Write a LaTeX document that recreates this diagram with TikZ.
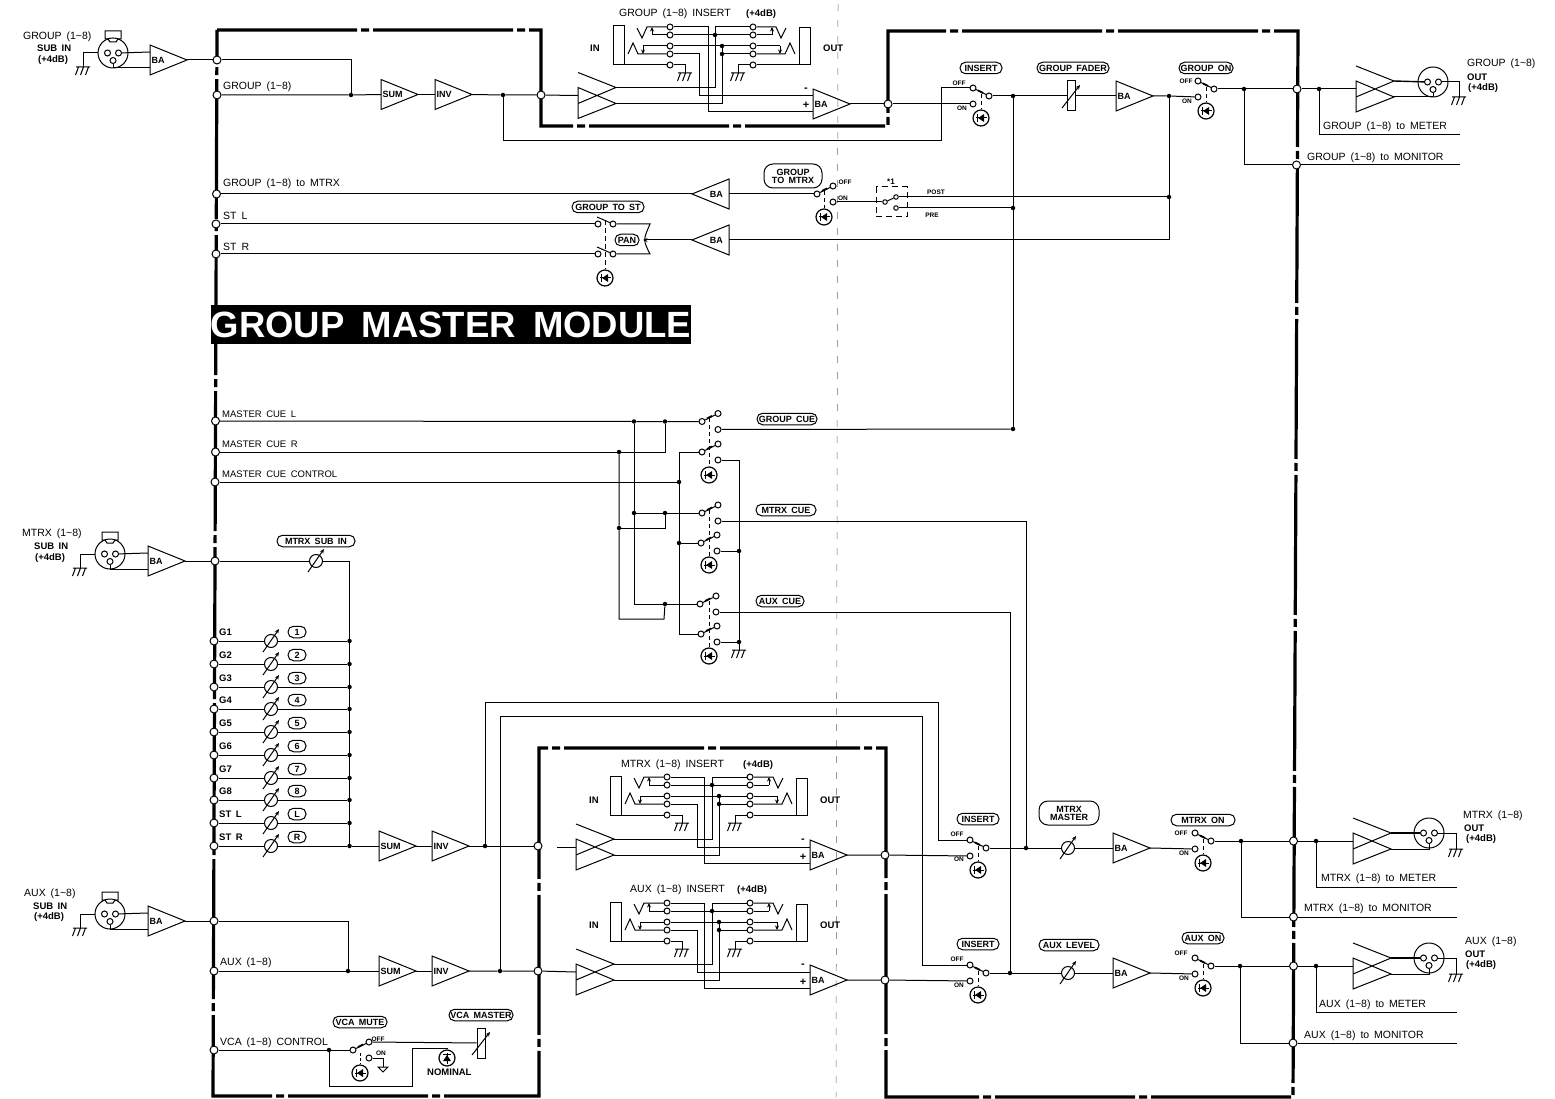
\documentclass[tikz,border=0pt]{standalone}
\usepackage{fontspec}
\setmainfont[WordSpace=1.7]{Liberation Sans}
\usetikzlibrary{arrows.meta,calc}
\newcount\tno
\newcommand{\til}{\textasciitilde}
\tikzset{
  x=1pt,y=-1pt,
  wire/.style={line width=1pt,line join=miter},
  thinw/.style={line width=0.9pt},
  busline/.style={line width=3.2pt,line join=miter,dash pattern=on 140pt off 4pt on 8pt off 4pt},
  fold/.style={line width=0.5pt,dash pattern=on 7pt off 9pt,black!60},
  jn/.style={circle,draw,fill=white,line width=1pt,inner sep=0,minimum size=8pt},
  dotn/.style={circle,fill=black,inner sep=0,minimum size=4.5pt},
  pin/.style={circle,draw,fill=white,line width=1pt,inner sep=0,minimum size=6pt},
  term/.style={circle,draw,fill=white,line width=1pt,inner sep=0,minimum size=6pt},
  ledc/.style={circle,draw,line width=1.2pt,inner sep=0,minimum size=16pt},
  potc/.style={circle,draw,fill=white,line width=1pt,inner sep=0,minimum size=13pt},
  fadr/.style={rectangle,draw,fill=white,line width=1pt,inner sep=0,minimum width=8pt,minimum height=30pt},
  xlrc/.style={circle,draw,line width=1pt,inner sep=0,minimum size=30pt},
  lbl/.style={anchor=west,inner sep=0,font=\fontsize{10.5}{12}\selectfont},
  lblb/.style={anchor=west,inner sep=0,font=\fontsize{9.5}{11}\selectfont\bfseries},
  lbls/.style={anchor=center,inner sep=0,font=\fontsize{6.5}{8}\selectfont\bfseries},
  ampt/.style={anchor=west,inner sep=0,font=\fontsize{9}{10}\selectfont\bfseries},
  pillst/.style={draw,line width=1pt,rounded corners=5.5pt,inner sep=0,minimum height=11.5pt,align=center,font=\fontsize{9}{10}\selectfont\bfseries},
  arrowl/.style={line width=1pt,-{Stealth[length=4.5pt,width=4pt]}},
}
\newcommand{\lab}[4][lbl]{\global\advance\tno by 1 \node[#1] (T\the\tno) at (#2,#3) {#4};}
\newcommand{\pill}[4]{\global\advance\tno by 1 \node[pillst,minimum width=#3 pt] (T\the\tno) at (#1,#2) {#4};}
% amplifier pointing right: name, left x, centre y, text
\newcommand{\BA}[4]{\begin{scope}[shift={(#2,#3)}]
  \draw[wire] (0,-15) -- (37,0) -- (0,15) -- cycle;
  \coordinate (#1-i) at (0,0); \coordinate (#1-o) at (37,0);
  \coordinate (#1-u) at (0,-8); \coordinate (#1-l) at (0,8);
  \node[ampt] (#1-t) at (1.5,0) {#4};
\end{scope}}
% amplifier pointing left: name, right x, centre y, text
\newcommand{\BAL}[4]{\begin{scope}[shift={(#2,#3)}]
  \draw[wire] (0,-15) -- (-37,0) -- (0,15) -- cycle;
  \coordinate (#1-i) at (0,0); \coordinate (#1-o) at (-37,0);
  \node[ampt,anchor=east] (#1-t) at (-6,0) {#4};
\end{scope}}
% balanced driver: name, left x, centre y
\newcommand{\Diff}[3]{\begin{scope}[shift={(#2,#3)}]
  \draw[wire] (0,-23) -- (38,-8) -- (0,8) (0,-8) -- (38,8) -- (0,23) -- cycle;
  \coordinate (#1-i) at (0,0); \coordinate (#1-t) at (38,-8); \coordinate (#1-b) at (38,8);
\end{scope}}
\newcommand{\XLR}[3]{\begin{scope}[shift={(#2,#3)}]
  \node[xlrc] (#1) at (0,0) {};
  \node[pin] (#1a) at (-5.5,0) {}; \node[pin] (#1b) at (5.5,0) {}; \node[pin] (#1c) at (0,7.5) {};
\end{scope}}
\newcommand{\XLRtab}[3]{\XLR{#1}{#2}{#3}\begin{scope}[shift={(#2,#3)}]
  \draw[wire] (-8,-22) -- (8,-22) -- (8,-14) -- (5,-14) -- (3,-11) -- (-3,-11) -- (-5,-14) -- (-8,-14) -- cycle;
\end{scope}}
\newcommand{\Gnd}[3]{\coordinate (#1) at (#2,#3);\begin{scope}[shift={(#2,#3)}]
  \draw[wire] (-7,0) -- (7,0) (-4.5,0) -- (-7.5,8) (0.5,0) -- (-2.5,8) (5.5,0) -- (2.5,8);
\end{scope}}
\newcommand{\LED}[4]{\node[ledc] (#1) at (#2,#3) {};\begin{scope}[shift={(#2,#3)},rotate=#4]
  \fill (-3,0) -- (3,-4) -- (3,4) -- cycle;
  \draw[line width=1pt] (-5,0) -- (6,0) (-3.2,-4) -- (-3.2,4);
\end{scope}}
\newcommand{\Pot}[3]{\node[potc] (#1) at (#2,#3) {};
  \draw[arrowl] (#2-8,#3+11) -- (#2+8,#3-12);}
\newcommand{\Fad}[3]{\node[fadr] (#1) at (#2,#3) {};
  \draw[arrowl] (#2-9,#3+12) -- (#2+9,#3-11);}
% switch with the common on the right: name,x of contacts,y of common
\newcommand{\SwR}[3]{\node[term] (#1a) at (#2,#3-8) {}; \node[term] (#1b) at (#2,#3+8) {};
  \node[term] (#1c) at (#2+16,#3) {};
  \draw[wire] (#1a) -- (#1c);
  \draw[line width=1.8pt] (#2+5,#3-5.5) -- (#2+10,#3-3);
  \LED{#1L}{#2+8}{#3+22}{0}
  \draw[wire,dash pattern=on 4pt off 3pt] (#2+8,#3-2) -- (#1L);}
% switch with the common on the left: name,x of common,y of common
\newcommand{\SwC}[3]{\node[term] (#1c) at (#2,#3) {}; \node[term] (#1a) at (#2+16,#3-8) {};
  \node[term] (#1b) at (#2+16,#3+8) {};
  \draw[wire] (#1c) -- (#1a);
  \draw[line width=1.8pt] (#2+5,#3-3) -- (#2+10,#3-5.5);}
\newcommand{\Insert}[3]{\begin{scope}[shift={(#2,#3)}]
  \foreach \r/\n in {0/1,8/2,19/3,27/4,38/5}{%
    \node[pin] (#1L\n) at (0,\r) {}; \node[pin] (#1R\n) at (83,\r) {};}
  \node[dotn] (#1D1) at (45,8) {}; \node[dotn] (#1D2) at (52,19) {}; \node[dotn] (#1D3) at (52,27) {};
  \draw[wire] (-46,38) -- (-46,-1) -- (-57,-1) -- (-57,38) -- (#1L5);
  \draw[wire] (#1L1) -- (-23,0) -- (-28,11) -- (-33,1);
  \draw[wire] (#1L4) -- (-32,27) -- (-37,16) -- (-42,27);
  \draw[wire] (#1L2) -- (-18,8); \draw[arrowl] (-18,8) -- (-18,0);
  \draw[wire] (#1L3) -- (-27,19); \draw[arrowl] (-27,19) -- (-27,27);
  \draw[wire] (129,38) -- (129,1) -- (140,1) -- (140,38) -- (#1R5);
  \draw[wire] (#1R1) -- (106,0) -- (111,11) -- (116,1);
  \draw[wire] (#1R4) -- (115,27) -- (120,16) -- (125,27);
  \draw[wire] (#1R2) -- (102,8); \draw[arrowl] (102,8) -- (102,0);
  \draw[wire] (#1R3) -- (110,19); \draw[arrowl] (110,19) -- (110,27);
  \draw[wire] (#1L2) -- (#1D1) -- (#1R2);
  \draw[wire] (#1L3) -- (#1D2) -- (#1R3);
  \draw[wire] (#1D2) -- (#1D3) -- (#1R4);
  \draw[wire] (#1R1) -| (#1D1);
  \Gnd{#1G1}{15}{46} \Gnd{#1G2}{68}{46}
  \draw[wire] (#1L5) -| (#1G1); \draw[wire] (#1R5) -| (#1G2);
\end{scope}}
\begin{document}
\begin{tikzpicture}
\useasboundingbox (0,0) rectangle (1555,1099);
\draw[fold] (838,4) -- (836,1097);
\draw[busline] (217,30) -- (541,30) -- (541,126) -- (888,126) -- (888,31) -- (1298,31) -- (1293,1097) -- (886,1097) -- (886,748) -- (539,748) -- (539,1096) -- (213,1096) -- cycle;

% ---- title
\node[fill=black,text=white,inner sep=0,minimum width=452pt,minimum height=39pt,font=\fontsize{36.5}{40}\selectfont\bfseries] (title) at (451,324.5) {GROUP MASTER MODULE};

% ---- junctions on the outline
\foreach \nm/\xx/\yy in {JgIn/217/60,JgBus/217/95,JgDi/541/95,JgOut/888/104,JgR/1297/89,JgMon/1296.5/165,
  JgMtx/216.5/194,JstL/216/224,JstR/216/254,JcL/215.5/421,JcR/215.5/452,JcC/215/482,JmIn/215/561,
  JmA/538/846,JmOut/885/855,JmR/1293.5/841,JmMon/1293.5/917,
  JaIn/214/921,JaBus/214/971,JaA/538/971,JaOut/885/980,JaR/1293.5/966,JaMon/1293/1043,JvCa/214/1050}
  {\node[jn] (\nm) at (\xx,\yy) {};}

% ---- GROUP block
\XLRtab{XgI}{113}{53}
\Gnd{GgI}{83}{67}
\BA{BgI}{150}{60}{BA}
\BA{Sg}{381}{94.5}{SUM}
\BA{Ig}{435}{94.5}{INV}
\node[dotn] (Dg1) at (351,95) {};
\node[dotn] (Dg2) at (503,95) {};
\Diff{Gd}{578}{95.5}
\BA{Gb}{813}{104}{BA}
\Insert{Gi}{670}{27}
\SwR{SgIns}{973}{96}
\node[dotn] (Dg3) at (1013,96) {};
\Fad{Fg}{1071}{96}
\BA{Gf}{1116}{96}{BA}
\node[dotn] (Dg4) at (1169,96) {};
\SwR{SgOn}{1198}{89}
\node[dotn] (Dg5) at (1244,89) {};
\node[dotn] (Dg6) at (1319,89) {};
\Diff{GdO}{1356}{89}
\XLR{XgO}{1433}{82}
\Gnd{GgO}{1459}{97}
\coordinate (GmE) at (1460,135);
\coordinate (GmoE) at (1460,165);
\BAL{Bmx}{729}{194}{BA}
\SwC{SgM}{817}{194}
\LED{SgML}{824}{217}{0}
\draw[wire,dash pattern=on 4pt off 3pt] (824,191) -- (SgML);
\node[term,minimum size=4.5pt] (S1c) at (885,202) {};
\node[term,minimum size=4.5pt] (S1a) at (896,197) {};
\node[term,minimum size=4.5pt] (S1b) at (896,208) {};
\draw[wire] (S1c) -- (S1a);
\draw[wire,dash pattern=on 6pt off 4pt] (876,187) rectangle (907,217);
\node[dotn] (Dg7) at (1169,197) {};
\node[dotn] (Dg8) at (1013,208) {};
\BAL{Bpan}{729}{240}{BA}
\node[term] (StLa) at (598,224) {}; \node[term] (StLb) at (613,224) {};
\node[term] (StRa) at (598,254) {}; \node[term] (StRb) at (613,254) {};
\draw[wire] (597,217) -- (StLb); \draw[wire] (597,247) -- (StRb);
\LED{StLed}{605}{278}{0}
\draw[wire,dash pattern=on 5pt off 3pt] (605,220) -- (StLed);
\coordinate (PanA) at (650,224); \coordinate (PanB) at (650,254); \coordinate (PanC) at (643,240);

\draw[wire] (XgI.west) -| (GgI);
\draw[wire] (XgIb) -- (BgI-u);
\draw[wire] (XgIc) |- (BgI-l);
\draw[wire] (BgI-o) -- (JgIn);
\draw[wire] (JgIn) -| (Dg1);
\draw[wire] (JgBus) -- (Dg1) -- (Sg-i);
\draw[wire] (Sg-o) -- (Ig-i);
\draw[wire] (Ig-o) -- (Dg2) -- (JgDi) -- (Gd-i);
\draw[wire] (Dg2) |- (941,141) |- (SgInsa);
\draw[wire] (Gd-t) -| (GiD1);
\draw[wire] (Gd-b) -| (GiD3);
\draw[wire] (GiL1) -| (708,112) -- (Gb-l);
\draw[wire] (GiL4) -| (699,96) -- (Gb-u);
\draw[wire] (Gb-o) -- (JgOut) -- (SgInsb);
\draw[wire] (SgInsc) -- (Dg3) -- (Fg) -- (Gf-i);
\draw[wire] (Gf-o) -- (Dg4) -- (SgOnb);
\draw[wire] (SgOnc) -- (Dg5) -- (JgR) -- (Dg6) -- (GdO-i);
\draw[line width=1.4pt] (GdO-t) -- (XgOa);
\draw[wire] (GdO-b) -| (XgOc);
\draw[wire] (XgOb) -| (GgO);
\draw[wire] (Dg6) |- (GmE);
\draw[wire] (Dg5) |- (JgMon);
\draw[wire] (JgMon) -- (GmoE);
\draw[wire] (Dg4) -- (Dg7) |- (Bpan-i);
\draw[wire] (Bmx-o) -- (JgMtx);
\draw[wire] (Bmx-i) -- (SgMc);
\draw[wire] (SgMb) -- (S1c);
\draw[wire] (S1a) -- (Dg7);
\draw[wire] (S1b) -- (Dg8);
\draw[wire] (JstL) -- (StLa);
\draw[wire] (JstR) -- (StRa);
\draw[wire] (StLb) -- (PanA) .. controls (PanC) and (PanC) .. (PanB) -- (StRb);
\draw[arrowl] (Bpan-o) -- (PanC);

\lab[lblb]{37}{48}{SUB IN}
\lab{23}{37}{GROUP (1\til8)}
\lab[lblb]{38}{60}{(+4dB)}
\lab{223}{87}{GROUP (1\til8)}
\lab{223}{184}{GROUP (1\til8) to MTRX}
\lab{223}{216}{ST L}
\lab{223}{247}{ST R}
\lab{619}{14}{GROUP (1\til8) INSERT}
\lab[lblb]{746}{14}{(+4dB)}
\lab[lblb]{590}{48}{IN}
\lab[lblb]{823}{48}{OUT}
\lab[lbls]{806}{90}{\fontsize{11}{12}\selectfont -}
\lab[lbls]{806}{105}{\fontsize{11}{12}\selectfont +}
\lab[lbls]{959}{83}{OFF}
\lab[lbls]{962}{108}{ON}
\lab[lbls]{1186}{81}{OFF}
\lab[lbls]{1187}{101}{ON}
\lab[lbls]{845}{182}{OFF}
\lab[lbls]{843}{198}{ON}
\lab[lbls]{891}{182}{\fontsize{8}{9}\selectfont *1}
\lab[lbls]{936}{192.5}{POST}
\lab[lbls]{932}{215}{PRE}
\lab{1323}{127}{GROUP (1\til8) to METER}
\lab{1307}{158}{GROUP (1\til8) to MONITOR}
\lab{1467}{64}{GROUP (1\til8)}
\lab[lblb]{1467}{77}{OUT}
\lab[lblb]{1468}{88}{(+4dB)}
\pill{981}{68}{42}{INSERT}
\pill{1073}{68}{72}{GROUP FADER}
\pill{1206}{68}{54}{GROUP ON}
\pill{608}{207}{72}{GROUP TO ST}
\pill{627}{240}{24}{PAN}
\node[pillst,minimum width=58pt,minimum height=24pt,rounded corners=9pt] (pGM) at (793,176) {GROUP\\[-2pt]TO MTRX};

% ---- CUE block
\SwC{C1}{702}{421.5}
\SwC{C2}{702}{452}
\SwC{C3}{702}{513}
\SwC{C4}{701}{543}
\SwC{C5}{700}{604}
\SwC{C6}{701}{634}
\LED{Ca}{709}{475}{0}
\LED{Cb}{709}{565}{0}
\LED{Cc}{709}{656}{0}
\draw[wire,dash pattern=on 4pt off 3pt] (709,418) -- (Ca);
\draw[wire,dash pattern=on 4pt off 3pt] (709,510) -- (Cb);
\draw[wire,dash pattern=on 4pt off 3pt] (709,601) -- (Cc);
\foreach \nm/\xx/\yy in {Dc1/634/421.5,Dc2/665/421.5,Dc3/619/452,Dc4/679/482,Dc5/634/513,Dc6/665/513,Dc7/619/528,Dc8/679/543,Dc9/665/604,Dc10/739/551,Dc11/739/642,Dc12/1013/429,Dc13/1010/973,Dc14/1026/848}
  {\node[dotn] (\nm) at (\xx,\yy) {};}
\Gnd{Gc}{739}{650}
\draw[wire] (JcL) -- (Dc1) -- (Dc2) -- (C1c);
\draw[wire] (JcR) -- (Dc3) -| (Dc2);
\draw[wire] (JcC) -- (Dc4);
\draw[wire] (C2c) -| (Dc4);
\draw[wire] (Dc4) -- (Dc8) |- (C6c);
\draw[wire] (Dc8) -- (C4c);
\draw[wire] (C1b) -- (Dc12);
\draw[wire] (Dg3) -- (Dg8) -- (Dc12);
\draw[wire] (C2b) -| (Dc10);
\draw[wire] (Dc10) -- (Dc11) -- (Gc);
\draw[wire] (C4b) -- (Dc10);
\draw[wire] (C6b) -- (Dc11);
\draw[wire] (Dc1) -- (Dc5) |- (Dc9);
\draw[wire] (Dc5) -- (Dc6) -- (C3c);
\draw[wire] (Dc6) |- (Dc7);
\draw[wire] (Dc3) -- (Dc7) |- (664,619) -- (Dc9);
\draw[wire] (Dc9) -- (C5c);
\draw[wire] (C3b) -| (Dc14);
\draw[wire] (C5b) -| (Dc13);
\lab{222}{414}{\fontsize{9.5}{11}\selectfont MASTER CUE L}
\lab{222}{444}{\fontsize{9.5}{11}\selectfont MASTER CUE R}
\lab{222}{474}{\fontsize{9.5}{11}\selectfont MASTER CUE CONTROL}
\pill{787}{419}{60}{GROUP CUE}
\pill{786}{510}{60}{MTRX CUE}
\pill{780}{601}{48}{AUX CUE}

% ---- MTRX inputs
\XLRtab{XmI}{110}{554}
\Gnd{GmI}{80}{568}
\BA{BmI}{148}{561}{BA}
\Pot{PmS}{316}{561}
\draw[wire] (XmI.west) -| (GmI);
\draw[wire] (XmIb) -- (BmI-u);
\draw[wire] (XmIc) |- (BmI-l);
\draw[wire] (BmI-o) -- (JmIn) -- (PmS);
\lab{22}{534}{MTRX (1\til8)}
\lab[lblb]{34}{546}{SUB IN}
\lab[lblb]{35}{558}{(+4dB)}
\pill{316}{541}{78}{MTRX SUB IN}
\foreach \i/\yy/\tx/\ty in {1/641/G1/1,2/664/G2/2,3/687/G3/3,4/709/G4/4,5/732/G5/5,6/755/G6/6,7/778/G7/7,8/800/G8/8,9/823/ST L/L,10/846/ST R/R}{
  \node[jn] (Jr\i) at (214,\yy) {};
  \Pot{Pr\i}{271}{\yy}
  \node[dotn] (Dr\i) at (349.5,\yy) {};
  \draw[wire] (Jr\i) -- (Pr\i) -- (Dr\i);
  \node[lbl,font=\fontsize{9.5}{11}\selectfont\bfseries] (Tr\i) at (219,\yy-9) {\tx};
  \node[pillst,minimum width=18pt] (Pl\i) at (297,\yy-9) {\ty};
}
\draw[wire] (PmS) -| (Dr10);
\BA{Sm}{379}{846}{SUM}
\BA{Im}{432}{846}{INV}
\node[dotn] (Dm1) at (485,846) {};
\draw[wire] (Dr10) -- (Sm-i);
\draw[wire] (Sm-o) -- (Im-i);
\draw[wire] (Im-o) -- (Dm1) -- (JmA);
\Diff{Md}{576}{847}
\coordinate (MdS) at (557,847);
\draw[wire] (MdS) -- (Md-i);
\BA{Mb}{810}{855}{BA}
\Insert{Mi}{667}{777}
\draw[wire] (Md-t) -| (MiD1);
\draw[wire] (Md-b) -| (MiD3);
\draw[wire] (MiL1) -| (704,863) -- (Mb-l);
\draw[wire] (MiL4) -| (697,847) -- (Mb-u);
\SwR{SmIns}{970}{848}
\draw[wire] (Dm1) |- (938,702) |- (SmInsa);
\draw[wire] (Mb-o) -- (JmOut) -- (SmInsb);
\Pot{Pmm}{1068}{848}
\BA{Mf}{1113}{848}{BA}
\SwR{SmOn}{1195}{841}
\node[dotn] (Dm2) at (1241,841) {};
\node[dotn] (Dm3) at (1316,841) {};
\Diff{MdO}{1353}{841}
\XLR{XmO}{1429}{833}
\Gnd{GmO}{1456}{849}
\coordinate (MmE) at (1457,887); \coordinate (MmoE) at (1457,917);
\draw[wire] (SmInsc) -- (Dc14) -- (Pmm) -- (Mf-i);
\draw[wire] (Mf-o) -- (SmOnb);
\draw[wire] (SmOnc) -- (Dm2) -- (JmR) -- (Dm3) -- (MdO-i);
\draw[line width=1.4pt] (MdO-t) -- (XmOa);
\draw[wire] (MdO-b) -| (XmOc);
\draw[wire] (XmOb) -| (GmO);
\draw[wire] (Dm3) |- (MmE);
\draw[wire] (Dm2) |- (JmMon);
\draw[wire] (JmMon) -- (MmoE);
\lab{621}{765}{MTRX (1\til8) INSERT}
\lab[lblb]{743}{765}{(+4dB)}
\lab[lblb]{589}{800}{IN}
\lab[lblb]{820}{800}{OUT}
\lab[lbls]{803}{841}{\fontsize{11}{12}\selectfont -}
\lab[lbls]{803}{857}{\fontsize{11}{12}\selectfont +}
\lab[lbls]{957}{834}{OFF}
\lab[lbls]{959}{859}{ON}
\lab[lbls]{1181}{833}{OFF}
\lab[lbls]{1184}{853}{ON}
\lab{1321}{879}{MTRX (1\til8) to METER}
\lab{1304}{909}{MTRX (1\til8) to MONITOR}
\lab{1463}{816}{MTRX (1\til8)}
\lab[lblb]{1464}{828}{OUT}
\lab[lblb]{1466}{839}{(+4dB)}
\pill{978}{819}{42}{INSERT}
\node[pillst,minimum width=60pt,minimum height=24pt,rounded corners=9pt] (pMM) at (1069,813) {MTRX\\[-2pt]MASTER};
\pill{1203}{820}{64}{MTRX ON}

% ---- AUX block
\XLRtab{XaI}{110}{914}
\Gnd{GaI}{80}{928}
\BA{BaI}{148}{921}{BA}
\node[dotn] (Da1) at (348,971) {};
\BA{Sa}{379}{971}{SUM}
\BA{Ia}{432}{971}{INV}
\node[dotn] (Da2) at (500,971) {};
\Diff{Ad}{576}{972}
\BA{Ab}{810}{980}{BA}
\Insert{Ai}{667}{903}
\SwR{SaIns}{970}{973}
\Pot{Pal}{1068}{973}
\BA{Af}{1113}{973}{BA}
\SwR{SaOn}{1195}{966}
\node[dotn] (Da3) at (1240,966) {};
\node[dotn] (Da4) at (1316,966) {};
\Diff{AdO}{1353}{966}
\XLR{XaO}{1429}{958}
\Gnd{GaO}{1456}{974}
\coordinate (AmE) at (1457,1012); \coordinate (AmoE) at (1457,1043);
\draw[wire] (XaI.west) -| (GaI);
\draw[wire] (XaIb) -- (BaI-u);
\draw[wire] (XaIc) |- (BaI-l);
\draw[wire] (BaI-o) -- (JaIn);
\draw[wire] (JaIn) -| (Da1);
\draw[wire] (JaBus) -- (Da1) -- (Sa-i);
\draw[wire] (Sa-o) -- (Ia-i);
\draw[wire] (Ia-o) -- (Da2) -- (JaA) -- (Ad-i);
\draw[wire] (Da2) |- (922,716) |- (SaInsa);
\draw[wire] (Ad-t) -| (AiD1);
\draw[wire] (Ad-b) -| (AiD3);
\draw[wire] (AiL1) -| (704,988) -- (Ab-l);
\draw[wire] (AiL4) -| (697,972) -- (Ab-u);
\draw[wire] (Ab-o) -- (JaOut) -- (SaInsb);
\draw[wire] (SaInsc) -- (Dc13) -- (Pal) -- (Af-i);
\draw[wire] (Af-o) -- (SaOnb);
\draw[wire] (SaOnc) -- (Da3) -- (JaR) -- (Da4) -- (AdO-i);
\draw[line width=1.4pt] (AdO-t) -- (XaOa);
\draw[wire] (AdO-b) -| (XaOc);
\draw[wire] (XaOb) -| (GaO);
\draw[wire] (Da4) |- (AmE);
\draw[wire] (Da3) |- (JaMon);
\draw[wire] (JaMon) -- (AmoE);
\lab{24}{894}{AUX (1\til8)}
\lab[lblb]{33}{906}{SUB IN}
\lab[lblb]{34}{917}{(+4dB)}
\lab{220}{963}{AUX (1\til8)}
\lab{630}{890}{AUX (1\til8) INSERT}
\lab[lblb]{737}{890}{(+4dB)}
\lab[lblb]{589}{925}{IN}
\lab[lblb]{820}{925}{OUT}
\lab[lbls]{803}{966}{\fontsize{11}{12}\selectfont -}
\lab[lbls]{803}{982}{\fontsize{11}{12}\selectfont +}
\lab[lbls]{957}{959}{OFF}
\lab[lbls]{959}{985}{ON}
\lab[lbls]{1181}{953}{OFF}
\lab[lbls]{1184}{978}{ON}
\lab{1319}{1005}{AUX (1\til8) to METER}
\lab{1304}{1036}{AUX (1\til8) to MONITOR}
\lab{1465}{942}{AUX (1\til8)}
\lab[lblb]{1465}{954}{OUT}
\lab[lblb]{1466}{965}{(+4dB)}
\pill{978}{944}{42}{INSERT}
\pill{1069}{945}{60}{AUX LEVEL}
\pill{1203}{938}{42}{AUX ON}

% ---- VCA
\SwC{Sv}{353}{1050}
\LED{SvL}{360}{1073}{0}
\draw[wire,dash pattern=on 3pt off 2pt] (360,1053) -- (SvL);
\node[dotn] (Dv1) at (329,1050) {};
\Fad{Fv}{481}{1043}
\LED{Lnom}{447}{1058}{-90}
\coordinate (GvT) at (383,1067);
\coordinate (VnC) at (447,1048);
\draw[wire] (JvCa) -- (Dv1) -- (Svc);
\draw[wire] (Sva) -- (Fv);
\draw[wire] (Svb) -| (GvT);
\draw[wire] (378,1067) -- (388,1067) -- (383,1072) -- cycle;
\draw[wire] (Dv1) |- (412,1086) |- (VnC) -- (Lnom);
\lab{220}{1043}{VCA (1\til8) CONTROL}
\lab[lbls]{378}{1039}{OFF}
\lab[lbls]{381}{1053}{ON}
\lab[lblb]{427}{1072}{NOMINAL}
\pill{360}{1022}{54}{VCA MUTE}
\pill{481}{1015}{64}{VCA MASTER}
\end{tikzpicture}
\end{document}
